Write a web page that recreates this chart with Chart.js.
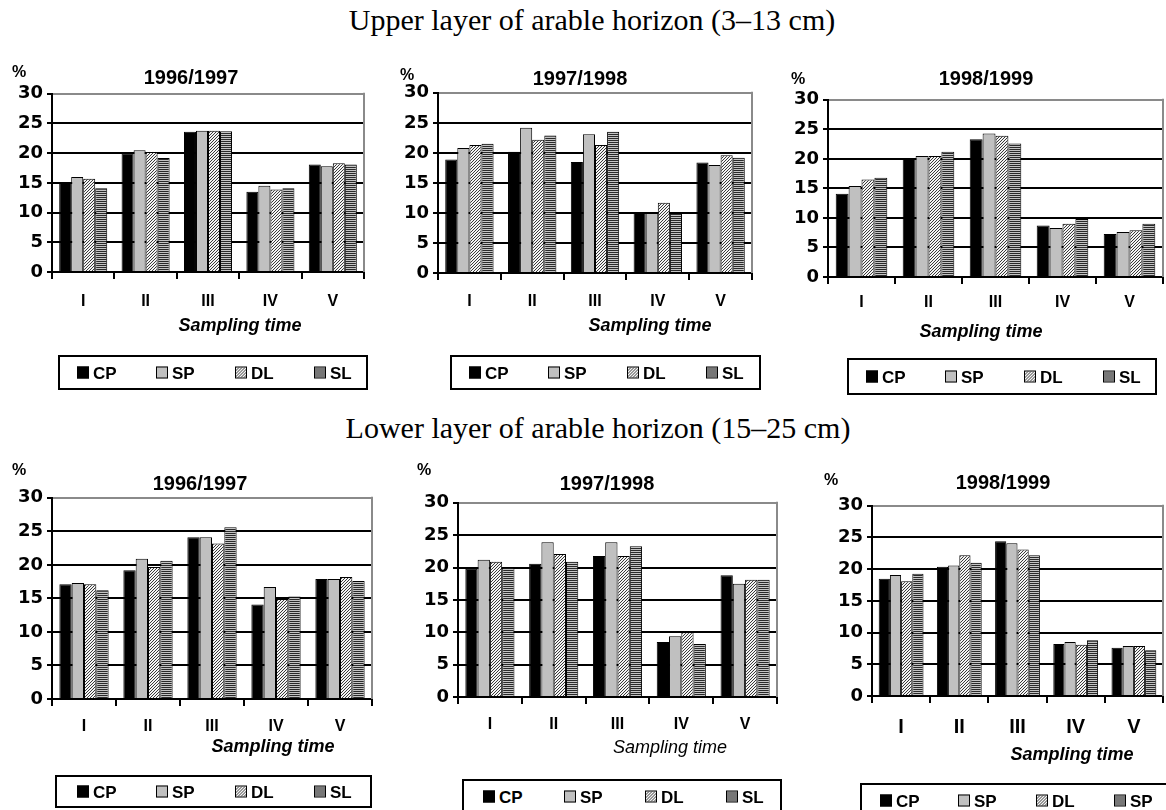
<!DOCTYPE html>
<html>
<head>
<meta charset="utf-8">
<script src="https://cdn.jsdelivr.net/npm/chart.js@4/dist/chart.umd.min.js"></script>
<style>
  body { margin: 0; background: #fff; width: 1166px; height: 810px; position: relative; overflow: hidden;
         font-family: 'Liberation Sans', Arial, sans-serif; color: #000; }
  .abs { position: absolute; white-space: nowrap; line-height: 1; }
  .head { font-family: 'Liberation Serif', 'Times New Roman', serif; font-size: 30px; transform: translate(-50%, -50%); }
  .ctitle { font-weight: bold; font-size: 20px; transform: translate(-50%, -50%); }
  .pct { font-weight: bold; font-size: 16px; transform: translateY(-50%); }
  .xtitle { font-style: italic; font-size: 18px; transform: translate(-50%, -50%); }
  .legend { position: absolute; border: 2px solid #000; box-sizing: border-box; background: #fff; }
  .item { position: absolute; top: 50%; transform: translateY(-50%); display: flex; align-items: center;
          font-weight: bold; font-size: 17px; line-height: 1; }
  .sw { width: 10px; height: 10px; border: 1px solid #000; margin-right: 4px; }
  canvas { position: absolute; }
</style>
</head>
<body>
<script>
// sampling times, treatments and seasons
const samplingTimes = ['I', 'II', 'III', 'IV', 'V'];
const treatments = ['CP', 'SP', 'DL', 'SL'];
const seasons = ['1996/1997', '1997/1998', '1998/1999'];
const legendLabels = ['CP', 'SP', 'DL', 'SL'];
const legendLabelsLast = ['CP', 'SP', 'DL', 'SP'];
const yTicks = [0, 5, 10, 15, 20, 25, 30];

// upper layer (3-13 cm), %
const upper9697CP = [15.0, 20.0, 23.6, 13.5, 18.1];
const upper9697SP = [16.0, 20.5, 23.8, 14.5, 17.8];
const upper9697DL = [15.7, 20.2, 23.8, 13.9, 18.3];
const upper9697SL = [14.1, 19.2, 23.7, 14.1, 18.1];

const upper9798CP = [18.9, 20.2, 18.5, 10.0, 18.4];
const upper9798SP = [20.8, 24.2, 23.1, 10.0, 18.0];
const upper9798DL = [21.3, 22.2, 21.3, 11.7, 19.6];
const upper9798SL = [21.5, 22.9, 23.5, 10.0, 19.2];

const upper9899CP = [14.1, 20.0, 23.3, 8.7, 7.3];
const upper9899SP = [15.4, 20.5, 24.3, 8.3, 7.6];
const upper9899DL = [16.5, 20.5, 23.9, 9.0, 7.9];
const upper9899SL = [16.8, 21.2, 22.6, 9.8, 9.0];

// lower layer (15-25 cm), %
const lower9697CP = [17.1, 19.2, 24.1, 14.1, 17.9];
const lower9697SP = [17.3, 20.9, 24.1, 16.7, 17.9];
const lower9697DL = [17.1, 19.7, 23.2, 14.9, 18.2];
const lower9697SL = [16.2, 20.6, 25.6, 15.3, 17.6];

const lower9798CP = [19.8, 20.6, 21.8, 8.5, 18.8];
const lower9798SP = [21.2, 23.9, 23.9, 9.4, 17.5];
const lower9798DL = [20.9, 22.1, 21.8, 10.0, 18.1];
const lower9798SL = [20.0, 20.9, 23.3, 8.2, 18.1];

const lower9899CP = [18.5, 20.4, 24.4, 8.2, 7.6];
const lower9899SP = [19.1, 20.6, 24.1, 8.5, 7.9];
const lower9899DL = [18.1, 22.2, 23.1, 8.1, 7.9];
const lower9899SL = [19.3, 21.0, 22.2, 8.8, 7.2];

const FONT = "'Liberation Sans', Arial, sans-serif";
const TICK_FONT = "'DejaVu Sans', 'Liberation Sans', sans-serif";

// small pattern tiles for the hatched bars
function tile(w, h, draw) {
  const c = document.createElement('canvas');
  c.width = w; c.height = h;
  draw(c.getContext('2d'));
  return c;
}
const dlTile = tile(3, 3, g => {
  g.fillStyle = '#f4f4f4'; g.fillRect(0, 0, 3, 3);
  g.fillStyle = '#3a3a3a';
  for (let i = 0; i < 3; i++) g.fillRect(i, 2 - i, 1, 1);
});
const slTile = tile(2, 2, g => {
  g.fillStyle = '#c4c4c4'; g.fillRect(0, 0, 2, 2);
  g.fillStyle = '#2a2a2a'; g.fillRect(0, 0, 2, 1);
});

function fillsFor(ctx) {
  return ['#000', '#c0c0c0', ctx.createPattern(dlTile, 'repeat'), ctx.createPattern(slTile, 'repeat')];
}

function addText(cls, text, x, y) {
  const d = document.createElement('div');
  d.className = 'abs ' + cls;
  d.textContent = text;
  d.style.left = x + 'px';
  d.style.top = y + 'px';
  document.body.appendChild(d);
  return d;
}

// gray frame on the right side of the plot
const frameRight = {
  id: 'frameRight',
  beforeDatasetsDraw(chart) {
    const a = chart.chartArea, ctx = chart.ctx;
    ctx.save();
    ctx.strokeStyle = '#8a8a8a';
    ctx.lineWidth = 2;
    ctx.beginPath();
    ctx.moveTo(a.right, a.top - 1);
    ctx.lineTo(a.right, a.bottom);
    ctx.stroke();
    ctx.restore();
  }
};

function makeChart(p) {
  const YW = 50, PT = 14, PR = 4, XH = 52;
  const cv = document.createElement('canvas');
  cv.width = p.R - p.L + YW + PR;
  cv.height = p.B - p.T + PT + XH;
  cv.style.left = (p.L - YW) + 'px';
  cv.style.top = (p.T - PT) + 'px';
  document.body.appendChild(cv);
  const ctx = cv.getContext('2d');
  const fills = fillsFor(ctx);
  const catPad = p.labelY - p.B - 7 - p.catSize * 0.6;

  new Chart(ctx, {
    type: 'bar',
    data: {
      labels: samplingTimes,
      datasets: treatments.map((t, i) => ({
        label: t,
        data: p.values[i],
        backgroundColor: fills[i],
        borderColor: '#000',
        borderWidth: 1
      }))
    },
    options: {
      responsive: false,
      animation: false,
      layout: { padding: { top: PT, right: PR, left: 0, bottom: 0 } },
      plugins: { legend: { display: false }, tooltip: { enabled: false } },
      datasets: { bar: { categoryPercentage: 0.77, barPercentage: 1 } },
      scales: {
        x: {
          grid: { offset: true, drawOnChartArea: false, drawTicks: true, tickLength: 7, color: '#000', lineWidth: 2 },
          border: { color: '#000', width: 2 },
          ticks: { color: '#000', padding: catPad, maxRotation: 0,
                   font: { family: FONT, size: p.catSize, weight: 'bold' } },
          afterFit: s => { s.height = XH; }
        },
        y: {
          min: 0, max: 30,
          afterBuildTicks: s => { s.ticks = yTicks.map(v => ({ value: v })); },
          ticks: { color: '#000', padding: 4, font: { family: TICK_FONT, size: 18, weight: 'bold' } },
          grid: { color: c => (c.tick && c.tick.value === 30 ? '#8a8a8a' : '#000'), tickColor: '#000',
                  lineWidth: 2, tickLength: 5 },
          border: { color: '#000', width: 2 },
          afterFit: s => { s.width = YW; }
        }
      }
    },
    plugins: [frameRight]
  });

  addText('ctitle', p.title, p.titleX, p.titleY);
  addText('pct', '%', p.pctX, p.pctY);
  const xt = addText('xtitle', 'Sampling time', p.xtX, p.xtY);
  if (p.xtBold) xt.style.fontWeight = 'bold';

  const lg = document.createElement('div');
  lg.className = 'legend';
  lg.style.left = p.lg[0] + 'px';
  lg.style.top = p.lg[1] + 'px';
  lg.style.width = (p.lg[2] - p.lg[0]) + 'px';
  lg.style.height = (p.lg[3] - p.lg[1]) + 'px';
  p.legendText.forEach((name, i) => {
    const it = document.createElement('div');
    it.className = 'item';
    it.style.left = (p.lgStart + i * p.lgGap - p.lg[0] - 2) + 'px';
    const sw = document.createElement('div');
    sw.className = 'sw';
    sw.style.background = i === 0 ? '#000' : i === 1 ? '#c0c0c0' : 'url(' + (i === 2 ? dlTile : slTile).toDataURL() + ')';
    it.appendChild(sw);
    const tx = document.createElement('span');
    tx.textContent = name;
    it.appendChild(tx);
    lg.appendChild(it);
  });
  document.body.appendChild(lg);
}

addText('head', 'Upper layer of arable horizon (3\u201313 cm)', 592, 20);
addText('head', 'Lower layer of arable horizon (15\u201325 cm)', 598, 428);

makeChart({ title: seasons[0], L: 52, T: 93, R: 364, B: 272, catSize: 16, labelY: 302,
  values: [upper9697CP, upper9697SP, upper9697DL, upper9697SL],
  titleX: 191, titleY: 77, pctX: 12, pctY: 72, xtX: 240, xtY: 325, xtBold: true,
  lg: [58, 355, 368, 390], lgStart: 77, lgGap: 79, legendText: legendLabels });

makeChart({ title: seasons[1], L: 438, T: 92, R: 752, B: 273, catSize: 16, labelY: 302,
  values: [upper9798CP, upper9798SP, upper9798DL, upper9798SL],
  titleX: 580, titleY: 78, pctX: 400, pctY: 75, xtX: 650, xtY: 325, xtBold: true,
  lg: [450, 355, 761, 390], lgStart: 469, lgGap: 79, legendText: legendLabels });

makeChart({ title: seasons[2], L: 828, T: 99, R: 1163, B: 277, catSize: 16, labelY: 303,
  values: [upper9899CP, upper9899SP, upper9899DL, upper9899SL],
  titleX: 986, titleY: 78, pctX: 791, pctY: 79, xtX: 981, xtY: 331, xtBold: true,
  lg: [847, 358, 1157, 395], lgStart: 866, lgGap: 79, legendText: legendLabels });

makeChart({ title: seasons[0], L: 52, T: 497, R: 372, B: 699, catSize: 16, labelY: 727,
  values: [lower9697CP, lower9697SP, lower9697DL, lower9697SL],
  titleX: 200, titleY: 483, pctX: 12, pctY: 470, xtX: 273, xtY: 746, xtBold: true,
  lg: [55, 775, 372, 808], lgStart: 77, lgGap: 79, legendText: legendLabels });

makeChart({ title: seasons[1], L: 458, T: 502, R: 777, B: 697, catSize: 16, labelY: 725,
  values: [lower9798CP, lower9798SP, lower9798DL, lower9798SL],
  titleX: 607, titleY: 483, pctX: 417, pctY: 470, xtX: 670, xtY: 747, xtBold: false,
  lg: [462, 779, 782, 814], lgStart: 483, lgGap: 81, legendText: legendLabels });

makeChart({ title: seasons[2], L: 872, T: 505, R: 1163, B: 696, catSize: 20, labelY: 727,
  values: [lower9899CP, lower9899SP, lower9899DL, lower9899SL],
  titleX: 1003, titleY: 482, pctX: 824, pctY: 480, xtX: 1072, xtY: 754, xtBold: true,
  lg: [860, 783, 1172, 818], lgStart: 880, lgGap: 78, legendText: legendLabelsLast });
</script>
</body>
</html>
